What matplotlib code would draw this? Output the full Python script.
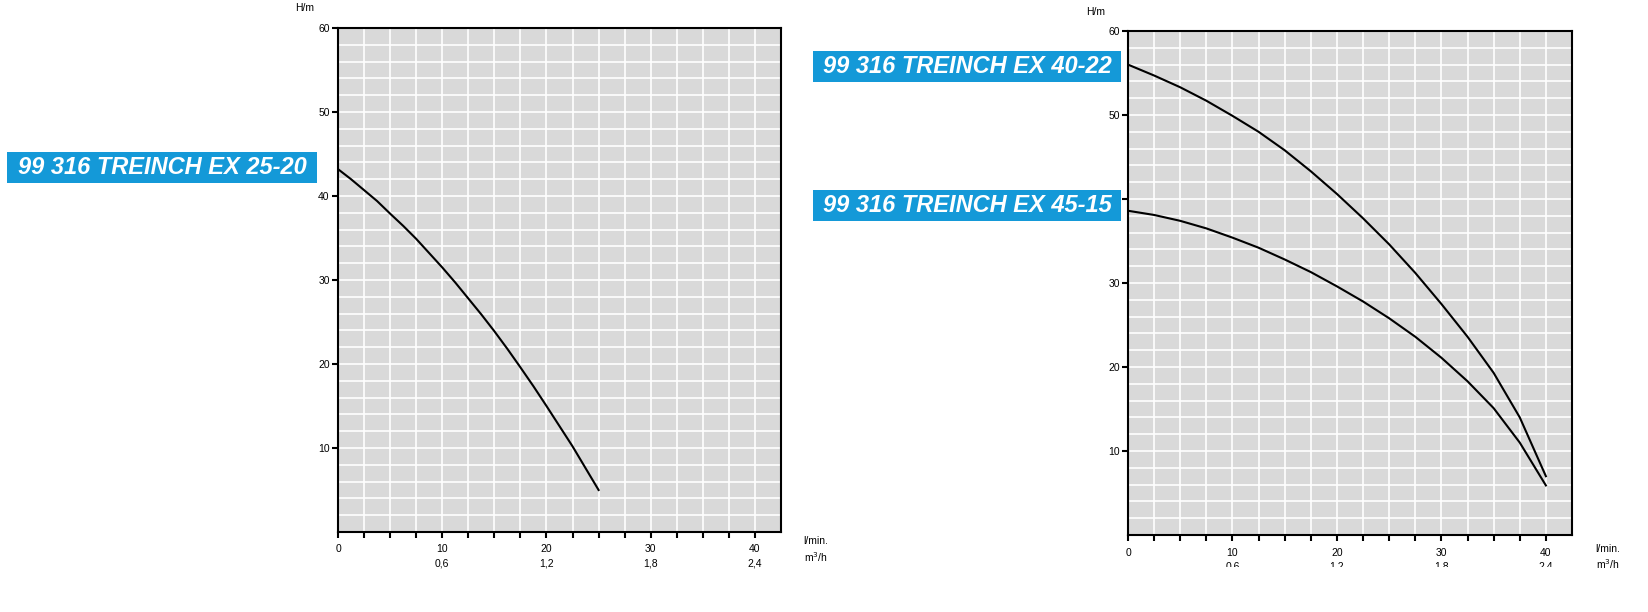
import matplotlib
matplotlib.use("Agg")
import matplotlib.pyplot as plt
from matplotlib.patches import Rectangle

# ---- data ----
q_left = [0, 1.25, 2.5, 3.75, 5, 6.25, 7.5, 8.75, 10, 11.25, 12.5, 13.75, 15,
          16.25, 17.5, 18.75, 20, 21.25, 22.5, 23.75, 25]
h_ex2520 = [43.2, 42.0, 40.7, 39.4, 37.9, 36.45, 34.9, 33.2, 31.5, 29.7, 27.8,
            25.9, 23.9, 21.8, 19.6, 17.35, 15.0, 12.6, 10.2, 7.6, 5.0]

q_right = [0, 2.5, 5, 7.5, 10, 12.5, 15, 17.5, 20, 22.5, 25, 27.5, 30, 32.5,
           35, 37.5, 40]
h_ex4022 = [56.0, 54.7, 53.3, 51.7, 49.9, 48.0, 45.8, 43.3, 40.6, 37.7, 34.6,
            31.2, 27.5, 23.6, 19.3, 14.0, 7.0]
h_ex4515 = [38.6, 38.1, 37.4, 36.5, 35.4, 34.2, 32.8, 31.3, 29.6, 27.8, 25.8,
            23.6, 21.1, 18.3, 15.1, 11.0, 5.9]

x_ticks = [0, 2.5, 5, 7.5, 10, 12.5, 15, 17.5, 20, 22.5, 25, 27.5, 30, 32.5, 35, 37.5, 40]
x_major = [0, 10, 20, 30, 40]
x_major_labels = ["0", "10\n0,6", "20\n1,2", "30\n1,8", "40\n2,4"]
y_ticks = [10, 20, 30, 40, 50, 60]
y_grid = list(range(0, 61, 2))

label_left = "99 316 TREINCH EX 25-20"
label_r1 = "99 316 TREINCH EX 40-22"
label_r2 = "99 316 TREINCH EX 45-15"

plt.rcParams['font.family'] = ['Liberation Sans', 'DejaVu Sans']

W, H = 1648, 612
fig = plt.figure(figsize=(W / 100, H / 100), dpi=100)


def px_axes(x0, x1, y0, y1):
    return fig.add_axes([x0 / W, 1 - y1 / H, (x1 - x0) / W, (y1 - y0) / H])


def style(ax):
    ax.set_facecolor('#d9d9d9')
    ax.set_xlim(0, 42.5)
    ax.set_ylim(0, 60)
    ax.set_axisbelow(True)
    xl = [""] * len(x_ticks)
    for v, lab in zip(x_major, x_major_labels):
        xl[x_ticks.index(v)] = lab
    ax.set_xticks(x_ticks)
    ax.set_xticklabels(xl, fontsize=7.5, linespacing=1.5)
    ax.set_yticks(y_ticks)
    ax.set_yticklabels([str(v) for v in y_ticks], fontsize=7.5)
    ax.set_yticks(y_grid, minor=True)
    ax.tick_params(axis='y', which='minor', length=0)
    ax.tick_params(axis='y', which='major', direction='out', length=4,
                   width=1.5, color='black', pad=2)
    ax.tick_params(axis='x', which='major', direction='out', length=4,
                   width=1.5, color='black', pad=5)
    ax.grid(True, axis='x', which='major', color='white', linewidth=1.2)
    ax.grid(True, axis='y', which='both', color='white', linewidth=1.2)
    for s in ax.spines.values():
        s.set_linewidth(1.5)
        s.set_color('black')


ax1 = px_axes(338, 781, 28, 532)
style(ax1)
ax1.plot(q_left, h_ex2520, color='black', linewidth=1.5, zorder=3,
         solid_joinstyle='round')

ax2 = px_axes(1128, 1572, 31, 535)
style(ax2)
ax2.plot(q_right, h_ex4022, color='black', linewidth=1.5, zorder=3,
         solid_joinstyle='round')
ax2.plot(q_right, h_ex4515, color='black', linewidth=1.5, zorder=3,
         solid_joinstyle='round')

# axis unit labels
fig.text(305 / W, 1 - 8 / H, "H/m", fontsize=7.5, ha='center', va='center')
fig.text(1096 / W, 1 - 12 / H, "H/m", fontsize=7.5, ha='center', va='center')
fig.text(816 / W, 1 - 541 / H, "l/min.", fontsize=7.5, ha='center', va='center')
fig.text(816 / W, 1 - 557 / H, "m$^3$/h", fontsize=7.5, ha='center', va='center')
fig.text(1608 / W, 1 - 549 / H, "l/min.", fontsize=7.5, ha='center', va='center')
fig.text(1608 / W, 1 - 564 / H, "m$^3$/h", fontsize=7.5, ha='center', va='center')

# white mask cutting lower part of right chart tick labels (as in reference)
fig.patches.append(Rectangle((1040 / W, 0), 540 / W, 1 - 567 / H,
                             transform=fig.transFigure, facecolor='white',
                             edgecolor='none', zorder=5))

BLUE = '#1499d8'


def tag(x0, x1, y0, y1, text):
    fig.patches.append(Rectangle((x0 / W, 1 - y1 / H), (x1 - x0) / W, (y1 - y0) / H,
                                 transform=fig.transFigure, facecolor=BLUE,
                                 edgecolor='none', zorder=6))
    fig.text((x0 + x1) / 2 / W, 1 - (y0 + y1) / 2 / H, text, fontsize=17,
             fontweight='bold', fontstyle='italic', color='white',
             ha='center', va='center', zorder=7)


tag(7, 317, 152, 183, label_left)
tag(813, 1121, 51, 82, label_r1)
tag(813, 1121, 190, 221, label_r2)

fig.savefig("out.png", dpi=100, facecolor='white')
